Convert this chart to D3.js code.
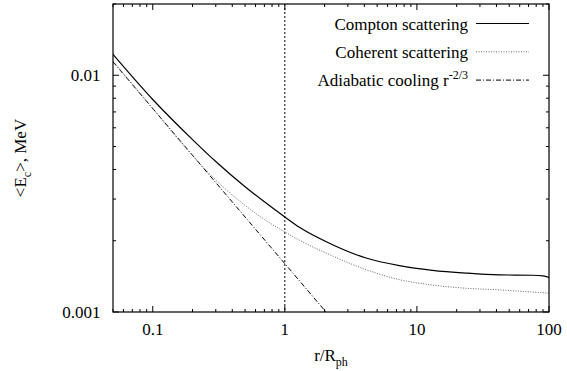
<!DOCTYPE html>
<html>
<head>
<meta charset="utf-8">
<script src="https://cdn.jsdelivr.net/npm/d3@7"></script>
<style>
  body { margin: 0; background: #fff; }
</style>
</head>
<body>
<svg id="chart" width="567" height="371"></svg>
<script>
// data
const comptonX = [0.05, 0.1, 0.2, 0.3, 0.5, 0.7, 1, 1.29, 2.32, 4.12, 7.36, 13.1, 23.5, 41.9, 74.8, 90, 100];
const comptonY = [0.01225, 0.0079, 0.00535, 0.00432, 0.00338, 0.00292, 0.00252, 0.00228, 0.00192, 0.00169, 0.00157, 0.0015, 0.00146, 0.001435, 0.00143, 0.00142, 0.0014];

const coherentX = [0.05, 0.1, 0.158, 0.2, 0.3, 0.5, 0.7, 1, 1.29, 2.32, 4.12, 7.36, 13.1, 23.5, 41.9, 100];
const coherentY = [0.01148, 0.00724, 0.00532, 0.00458, 0.00361, 0.00282, 0.00246, 0.00218, 0.00201, 0.00172, 0.00151, 0.00137, 0.0013, 0.00126, 0.00124, 0.0012];

const adiabaticX = [0.05, 1, 2.05];
const adiabaticY = [0.0114, 0.0016, 0.001];

const xTicks = [0.1, 1, 10, 100];
const yTicks = [0.001, 0.01];

let pLeft = 113,
    pRight = 549,
    pTop = 4,
    pBottom = 312,
    fontSize = 17;

let svg = d3.select("#chart");

let x = d3.scaleLog().domain([0.05, 100]).range([pLeft, pRight]);
let y = d3.scaleLog().domain([0.001, 0.02]).range([pBottom, pTop]);

// minor tick values
let xMinor = [], yMinor = [];
[0.01, 0.1, 1, 10].forEach(d => {
    for (let k = 2; k <= 9; k++) {
        let v = +(d * k).toPrecision(3);
        if (v >= 0.05 && v <= 100) xMinor.push(v);
    }
});
[0.001, 0.01].forEach(d => {
    for (let k = 2; k <= 9; k++) {
        let v = +(d * k).toPrecision(3);
        if (v <= 0.02) yMinor.push(v);
    }
});

let g = svg.append("g");

// ticks, mirrored on all sides
function tickLines(vals, len) {
    vals.forEach(v => {
        g.append("line").attr("x1", x(v)).attr("x2", x(v)).attr("y1", pBottom).attr("y2", pBottom - len)
            .attr("stroke", "#000").attr("stroke-width", 1);
        g.append("line").attr("x1", x(v)).attr("x2", x(v)).attr("y1", pTop).attr("y2", pTop + len)
            .attr("stroke", "#000").attr("stroke-width", 1);
    });
}
function yTickLines(vals, len) {
    vals.forEach(v => {
        g.append("line").attr("y1", y(v)).attr("y2", y(v)).attr("x1", pLeft).attr("x2", pLeft + len)
            .attr("stroke", "#000").attr("stroke-width", 1);
        g.append("line").attr("y1", y(v)).attr("y2", y(v)).attr("x1", pRight).attr("x2", pRight - len)
            .attr("stroke", "#000").attr("stroke-width", 1);
    });
}
tickLines(xTicks, 6);
tickLines(xMinor, 3);
yTickLines(yTicks, 6);
yTickLines(yMinor, 3);

// tick labels
g.selectAll(".xl").data(xTicks).join("text")
    .attr("x", d => x(d)).attr("y", 335)
    .attr("text-anchor", "middle").attr("font-size", fontSize)
    .text(d => d3.format("~g")(d));

g.selectAll(".yl").data(yTicks).join("text")
    .attr("x", 100.5).attr("y", d => y(d) + 6)
    .attr("text-anchor", "end").attr("font-size", fontSize)
    .text(d => d3.format("~g")(d));

// vertical line at r = R_ph
g.append("line")
    .attr("x1", x(1)).attr("x2", x(1)).attr("y1", pTop).attr("y2", pBottom)
    .attr("stroke", "#000").attr("stroke-width", 1).attr("stroke-dasharray", "2,2");

let line = d3.line().curve(d3.curveMonotoneX);

function series(xs, ys) {
    return xs.map((v, i) => [x(v), y(ys[i])]);
}

svg.append("clipPath").attr("id", "clip")
    .append("rect").attr("x", pLeft).attr("y", pTop).attr("width", pRight - pLeft).attr("height", pBottom - pTop);

let plot = svg.append("g").attr("clip-path", "url(#clip)");

plot.append("path")
    .attr("d", line(series(adiabaticX, adiabaticY)))
    .attr("fill", "none").attr("stroke", "#000").attr("stroke-width", 1)
    .attr("stroke-dasharray", "5,2,1,2");

plot.append("path")
    .attr("d", line(series(coherentX, coherentY)))
    .attr("fill", "none").attr("stroke", "#666").attr("stroke-width", 1)
    .attr("stroke-dasharray", "1,1.5");

plot.append("path")
    .attr("d", line(series(comptonX, comptonY)))
    .attr("fill", "none").attr("stroke", "#000").attr("stroke-width", 1.2);

// frame
svg.append("rect")
    .attr("x", pLeft).attr("y", pTop).attr("width", pRight - pLeft).attr("height", pBottom - pTop)
    .attr("fill", "none").attr("stroke", "#000").attr("stroke-width", 1.2);

// legend
let legend = [
    {name: "Compton scattering", dash: null, color: "#000"},
    {name: "Coherent scattering", dash: "1,1.5", color: "#666"},
    {name: "Adiabatic cooling r", dash: "5,2,1,2", color: "#000", sup: "-2/3"}
];
legend.forEach((d, i) => {
    let ly = 23.5 + i * 28.3;
    let t = svg.append("text")
        .attr("x", 468).attr("y", ly + 6)
        .attr("text-anchor", "end").attr("font-size", fontSize);
    t.append("tspan").text(d.name);
    if (d.sup) {
        t.append("tspan").attr("dy", -7).attr("font-size", 12).text(d.sup);
    }
    svg.append("line")
        .attr("x1", 476).attr("x2", 529).attr("y1", ly).attr("y2", ly)
        .attr("stroke", d.color).attr("stroke-width", i == 0 ? 1.2 : 1)
        .attr("stroke-dasharray", d.dash);
});

// axis titles
let xt = svg.append("text")
    .attr("x", 331).attr("y", 361)
    .attr("text-anchor", "middle").attr("font-size", fontSize);
xt.append("tspan").text("r/R");
xt.append("tspan").attr("dy", 5).attr("font-size", 12).text("ph");

let yt = svg.append("text")
    .attr("transform", "translate(26,158) rotate(-90)")
    .attr("text-anchor", "middle").attr("font-size", fontSize);
yt.append("tspan").text("<E");
yt.append("tspan").attr("dy", 5).attr("font-size", 12).text("c");
yt.append("tspan").attr("dy", -5).text(">, MeV");

// serif face on every label
svg.selectAll("text").style("font-family", "'Liberation Serif'").style("fill", "#000");
</script>
</body>
</html>
